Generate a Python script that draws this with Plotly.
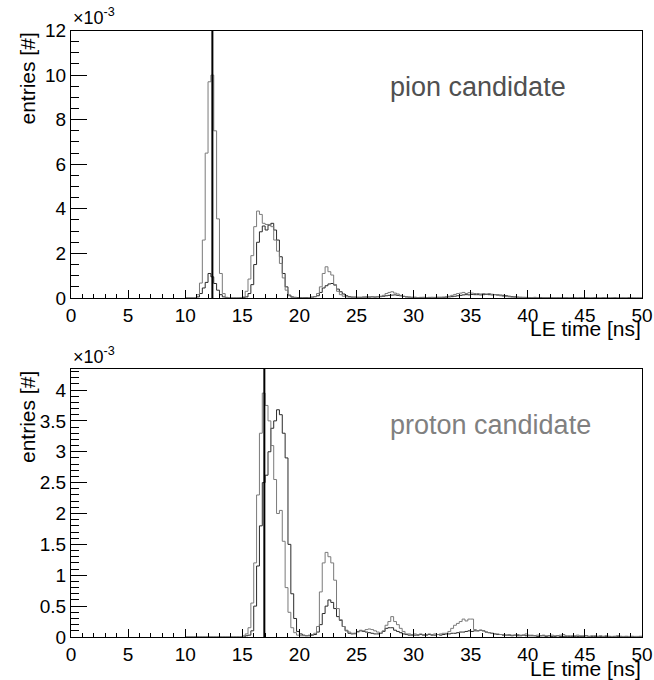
import plotly.graph_objects as go

# ======================================================================================================
# Data  (entries in units of 1e-3, 0.25 ns bins, first bin starts at 10 ns)
# ======================================================================================================

first_bin = 10.0
bin_width = 0.25

# pion candidate, light histogram (narrow peak at the expected time)
pion_light = [
    0, 0, 0, 0, 0.15, 0.67, 2.6, 6.5,
    9.7, 10.0, 7.5, 3.55, 1.1, 0.2, 0.03, 0,
    0, 0, 0, 0.02, 0.05, 0.3, 0.85, 1.9,
    3.2, 3.9, 3.75, 3.35, 3.3, 3.3, 3.2, 2.6,
    2.1, 1.55, 0.9, 0.35, 0.1, 0.03, 0.02, 0,
    0, 0, 0.01, 0.02, 0.03, 0.06, 0.2, 0.5,
    1.1, 1.4, 1.18, 1.03, 0.6, 0.3, 0.15, 0.08,
    0.05, 0.04, 0.04, 0.03, 0.03, 0.03, 0.04, 0.05,
    0.05, 0.06, 0.05, 0.06, 0.08, 0.12, 0.2, 0.25,
    0.28, 0.22, 0.18, 0.12, 0.08, 0.05, 0.04, 0.03,
    0.03, 0.02, 0.03, 0.02, 0.02, 0.03, 0.02, 0.03,
    0.03, 0.03, 0.04, 0.05, 0.08, 0.12, 0.16, 0.2,
    0.22, 0.25, 0.2, 0.24, 0.22, 0.2, 0.2, 0.18,
    0.2, 0.18, 0.2, 0.17, 0.15, 0.12, 0.1, 0.08,
    0.06, 0.05, 0.04, 0.03, 0.03, 0.03, 0.02, 0.03,
    0.02, 0.02, 0.03, 0.02, 0.01, 0.02, 0.02, 0.01,
    0.01, 0.02, 0.01, 0.01, 0.02, 0.01, 0.01, 0.01,
    0.01, 0.01, 0.01, 0.02, 0.01, 0.01, 0.01, 0,
    0.01, 0, 0.01, 0.01, 0, 0.01, 0, 0,
    0, 0.01, 0, 0, 0.01, 0, 0, 0,
]

# pion candidate, dark histogram
pion_dark = [
    0, 0, 0, 0, 0.05, 0.2, 0.45, 0.7,
    1.1, 0.95, 0.65, 0.35, 0.15, 0.05, 0.02, 0,
    0, 0, 0, 0, 0.02, 0.05, 0.2, 0.6,
    1.5, 2.5, 2.97, 3.23, 3.05, 3.27, 3.35, 3.05,
    2.6, 1.85, 1.1, 0.5, 0.13, 0.05, 0.03, 0.02,
    0.01, 0.01, 0.02, 0.02, 0.04, 0.06, 0.1, 0.25,
    0.45, 0.55, 0.63, 0.65, 0.58, 0.4, 0.28, 0.18,
    0.1, 0.06, 0.04, 0.04, 0.03, 0.03, 0.04, 0.04,
    0.04, 0.05, 0.04, 0.05, 0.06, 0.08, 0.1, 0.12,
    0.13, 0.14, 0.12, 0.1, 0.07, 0.05, 0.04, 0.03,
    0.03, 0.02, 0.02, 0.03, 0.02, 0.02, 0.03, 0.02,
    0.03, 0.03, 0.03, 0.04, 0.05, 0.06, 0.08, 0.1,
    0.12, 0.14, 0.15, 0.14, 0.16, 0.15, 0.15, 0.14,
    0.15, 0.16, 0.15, 0.14, 0.15, 0.14, 0.13, 0.12,
    0.1, 0.08, 0.06, 0.05, 0.04, 0.03, 0.03, 0.02,
    0.02, 0.02, 0.02, 0.01, 0.02, 0.01, 0.01, 0.01,
    0.01, 0.01, 0.01, 0.01, 0.01, 0.01, 0, 0.01,
    0.01, 0, 0.01, 0, 0.01, 0, 0, 0.01,
    0, 0, 0.01, 0, 0, 0, 0.01, 0,
    0, 0, 0, 0.01, 0, 0, 0, 0,
]

# proton candidate, light histogram
proton_light = [
    0, 0, 0, 0, 0, 0, 0, 0,
    0, 0, 0, 0, 0, 0, 0, 0,
    0, 0, 0, 0, 0.02, 0.05, 0.15, 0.55,
    1.2, 2.3, 3.3, 3.95, 3.75, 3.5, 3.1, 2.55,
    2.0, 2.05, 1.55, 0.8, 0.4, 0.15, 0.07, 0.03,
    0.02, 0.02, 0.02, 0.03, 0.04, 0.06, 0.17, 0.73,
    1.2, 1.37, 1.3, 1.2, 0.92, 0.46, 0.28, 0.17,
    0.11, 0.08, 0.06, 0.05, 0.08, 0.11, 0.1, 0.12,
    0.13, 0.12, 0.1, 0.08, 0.06, 0.1, 0.19, 0.25,
    0.33, 0.25, 0.2, 0.14, 0.09, 0.05, 0.05, 0.04,
    0.05, 0.04, 0.05, 0.04, 0.04, 0.05, 0.04, 0.05,
    0.04, 0.05, 0.06, 0.06, 0.09, 0.14, 0.19, 0.22,
    0.25, 0.29, 0.26, 0.29, 0.29, 0.12, 0.1, 0.11,
    0.1, 0.08, 0.07, 0.06, 0.05, 0.05, 0.04, 0.04,
    0.03, 0.04, 0.03, 0.03, 0.04, 0.03, 0.03, 0.05,
    0.03, 0.03, 0.02, 0.03, 0.02, 0.03, 0.02, 0.02,
    0.03, 0.02, 0.02, 0.03, 0.04, 0.02, 0.02, 0.02,
    0.02, 0.03, 0.02, 0.02, 0.02, 0.01, 0.02, 0.02,
    0.01, 0.02, 0.01, 0.02, 0.01, 0.01, 0.01, 0.02,
    0.01, 0.01, 0.01, 0.01, 0.01, 0.01, 0.01, 0.01,
]

# proton candidate, dark histogram
proton_dark = [
    0, 0, 0, 0, 0, 0, 0, 0,
    0, 0, 0, 0, 0, 0, 0, 0,
    0, 0, 0, 0, 0, 0.02, 0.03, 0.1,
    0.5, 1.15, 1.8, 2.5, 2.62, 3.0, 3.38, 3.5,
    3.68, 3.6, 3.3, 2.9, 1.5, 0.7, 0.3, 0.09,
    0.05, 0.03, 0.02, 0.02, 0.03, 0.04, 0.08, 0.2,
    0.38, 0.5, 0.6, 0.56, 0.46, 0.33, 0.27, 0.17,
    0.1, 0.06, 0.05, 0.06, 0.09, 0.1, 0.09, 0.08,
    0.07, 0.06, 0.05, 0.05, 0.06, 0.09, 0.14, 0.15,
    0.15, 0.11, 0.09, 0.07, 0.05, 0.04, 0.03, 0.03,
    0.03, 0.03, 0.04, 0.03, 0.03, 0.04, 0.03, 0.03,
    0.04, 0.03, 0.04, 0.05, 0.05, 0.06, 0.06, 0.07,
    0.08, 0.08, 0.09, 0.1, 0.09, 0.1, 0.1, 0.11,
    0.1, 0.08, 0.07, 0.06, 0.05, 0.04, 0.04, 0.03,
    0.03, 0.03, 0.02, 0.03, 0.02, 0.02, 0.03, 0.02,
    0.02, 0.02, 0.02, 0.01, 0.02, 0.02, 0.01, 0.02,
    0.01, 0.01, 0.02, 0.01, 0.01, 0.01, 0.01, 0.01,
    0.01, 0.01, 0.01, 0.01, 0.02, 0.01, 0.01, 0.01,
    0.01, 0.01, 0.01, 0.01, 0.01, 0, 0.01, 0.01,
    0.01, 0, 0.01, 0, 0.01, 0, 0, 0.01,
]

# expected arrival times [ns]
pion_expected = 12.38
proton_expected = 16.93

# ======================================================================================================
# Plot
# ======================================================================================================

FONT = "Liberation Sans, Arial, Helvetica, sans-serif"
LIGHT = "#7a7a7a"
DARK = "#2a2a2a"
W, H = 654, 680


def step_trace(values, color, xaxis, yaxis):
    edges = [first_bin + i * bin_width for i in range(len(values) + 1)]
    return go.Scatter(x=edges, y=list(values) + [values[-1]],
                      mode="lines", line=dict(color=color, width=1, shape="hv"),
                      xaxis=xaxis, yaxis=yaxis, showlegend=False, hoverinfo="skip")


def x_axis(domain, anchor):
    return dict(domain=domain, anchor=anchor, range=[0, 50], automargin=False,
                tick0=0, dtick=5, ticks="inside", ticklen=8, tickcolor="black",
                minor=dict(dtick=1, ticks="inside", ticklen=4, tickcolor="black"),
                showline=True, mirror=True, linecolor="black", linewidth=1,
                showgrid=False, zeroline=False,
                tickfont=dict(family=FONT, size=19, color="black"))


def y_axis(domain, anchor, top, major, minor):
    return dict(domain=domain, anchor=anchor, range=[0, top], automargin=False,
                tick0=0, dtick=major, ticks="inside", ticklen=16, tickcolor="black",
                minor=dict(dtick=minor, ticks="inside", ticklen=8, tickcolor="black"),
                showline=True, mirror=True, linecolor="black", linewidth=1,
                showgrid=False, zeroline=False,
                tickfont=dict(family=FONT, size=19, color="black"))


xdom = [71 / W, 642 / W]
top_dom = [(H - 298) / H, (H - 30.5) / H]
bot_dom = [(H - 637) / H, (H - 369) / H]

fig = go.Figure()
fig.add_trace(step_trace(pion_dark, DARK, "x", "y"))
fig.add_trace(step_trace(pion_light, LIGHT, "x", "y"))
fig.add_trace(step_trace(proton_dark, DARK, "x2", "y2"))
fig.add_trace(step_trace(proton_light, LIGHT, "x2", "y2"))

shapes = []
for t, xr, yr in [(pion_expected, "x", "y domain"), (proton_expected, "x2", "y2 domain")]:
    shapes.append(dict(type="line", xref=xr, yref=yr, x0=t, x1=t, y0=0, y1=1,
                       line=dict(color="black", width=2)))

annotations = []
for dom, label, color in [(top_dom, "pion candidate", "#505050"),
                          (bot_dom, "proton candidate", "#808080")]:
    # y title
    annotations.append(dict(text="entries [#]", xref="paper", yref="paper",
                            x=27 / W, y=dom[1], xanchor="center", yanchor="top",
                            textangle=-90, showarrow=False,
                            font=dict(family=FONT, size=21, color="black")))
    # x title
    annotations.append(dict(text="LE time [ns]", xref="paper", yref="paper",
                            x=xdom[1], y=dom[0] - 31 / H, xanchor="right", yanchor="middle",
                            showarrow=False, borderpad=0,
                            font=dict(family=FONT, size=21, color="black")))
    # exponent
    annotations.append(dict(text="×10<sup>-3</sup>", xref="paper", yref="paper",
                            x=xdom[0], y=dom[1], xanchor="left", yanchor="bottom",
                            showarrow=False, font=dict(family=FONT, size=18, color="black")))
    # panel label
    annotations.append(dict(text=label, xref="paper", yref="paper",
                            x=388 / W, y=dom[1] - 56 / H, xanchor="left", yanchor="middle",
                            showarrow=False, font=dict(family=FONT, size=27, color=color)))

fig.update_layout(
    width=W, height=H,
    margin=dict(l=0, r=0, t=0, b=0),
    paper_bgcolor="white", plot_bgcolor="white",
    xaxis=x_axis(xdom, "y"),
    yaxis=y_axis(top_dom, "x", 12, 2, 0.5),
    xaxis2=x_axis(xdom, "y2"),
    yaxis2=y_axis(bot_dom, "x2", 4.34, 0.5, 0.1),
    shapes=shapes,
    annotations=annotations,
)

fig.write_html("out.html", config={"displayModeBar": False},
               post_script="document.body.style.margin='0';")
